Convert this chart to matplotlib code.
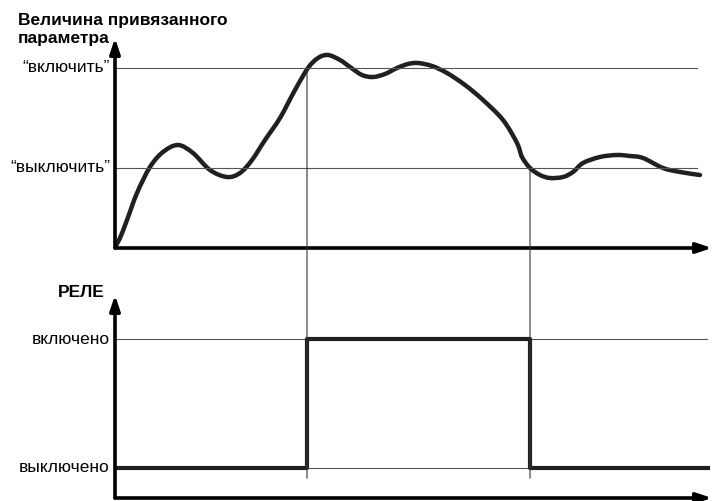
import numpy as np
import matplotlib
matplotlib.use("Agg")
import matplotlib.pyplot as plt
from matplotlib.patches import ConnectionPatch, PathPatch
from matplotlib.path import Path

plt.rcParams['font.family'] = ['Liberation Sans', 'DejaVu Sans']

# parameter curve (time, value)
t = [0.00, 0.05, 0.12, 0.22, 0.35, 0.48, 0.63, 0.78, 0.95, 1.12, 1.25, 1.37,
     1.50, 1.65, 1.80, 1.93, 2.03, 2.13, 2.25, 2.35, 2.47, 2.58, 2.70, 2.82,
     2.93, 3.03, 3.17, 3.32, 3.50, 3.68, 3.88, 4.02, 4.07, 4.15, 4.25, 4.35,
     4.48, 4.58, 4.68, 4.85, 5.02, 5.15, 5.28, 5.48, 5.65, 5.85]
v = [0.01, 0.10, 0.28, 0.55, 0.81, 0.96, 1.03, 0.95, 0.78, 0.71, 0.75, 0.88,
     1.08, 1.30, 1.58, 1.80, 1.90, 1.93, 1.88, 1.81, 1.73, 1.71, 1.74, 1.80,
     1.84, 1.85, 1.82, 1.75, 1.63, 1.48, 1.28, 1.05, 0.91, 0.80, 0.73, 0.70,
     0.71, 0.76, 0.85, 0.91, 0.93, 0.92, 0.90, 0.80, 0.76, 0.73]

on_level = 1.8
off_level = 0.8
t_on = 1.92
t_off = 4.15

relay_t = [0, t_on, t_off, 5.93]
relay_s = [0, 1, 0, 0]


def smooth_path(x, y):
    # Catmull-Rom through the points, written as cubic bezier segments
    p = np.column_stack([x, y])
    verts = [p[0]]
    codes = [Path.MOVETO]
    for i in range(len(p) - 1):
        p0 = p[i - 1] if i > 0 else p[i]
        p1, p2 = p[i], p[i + 1]
        p3 = p[i + 2] if i + 2 < len(p) else p[i + 1]
        verts += [p1 + (p2 - p0) / 6, p2 - (p3 - p1) / 6, p2]
        codes += [Path.CURVE4] * 3
    return Path(verts, codes)


W, H = 712, 501
fig = plt.figure(figsize=(W / 100, H / 100), dpi=100)

# top panel: x-axis at y=248px, arrow tip at 38px
ax1 = fig.add_axes([115 / W, (H - 248) / H, (W - 115) / W, 210 / H])
ax1.set_xlim(0, 5.97)
ax1.set_ylim(0, 2.1)
# bottom panel: x-axis at y=498px, arrow tip at 295px
ax2 = fig.add_axes([115 / W, (H - 498) / H, (W - 115) / W, 203 / H])
ax2.set_xlim(0, 5.97)
ax2.set_ylim(-30 / 129, 173 / 129)

fs = 12.5
thin = dict(color='#555555', lw=0.8)
for ax in (ax1, ax2):
    ax.axis('off')
    ax.annotate('', xy=(1.0, 0), xytext=(0, 0), xycoords='axes fraction',
                arrowprops=dict(arrowstyle='-|>,head_length=0.9,head_width=0.3',
                                lw=2.6, color='black', shrinkA=0, shrinkB=0))
    ax.annotate('', xy=(0, 1.0), xytext=(0, 0), xycoords='axes fraction',
                arrowprops=dict(arrowstyle='-|>,head_length=0.9,head_width=0.3',
                                lw=2.6, color='black', shrinkA=0, shrinkB=0))

# top panel
ax1.plot([0, 5.82], [on_level, on_level], **thin)
ax1.plot([0, 5.82], [off_level, off_level], **thin)
ax1.plot([-0.05, 0], [on_level, on_level], color='black', lw=0.8)
ax1.plot([-0.05, 0], [off_level, off_level], color='black', lw=0.8)
ax1.add_patch(PathPatch(smooth_path(t, v), fill=False, edgecolor='#231f20',
                        lw=3.2, capstyle='round', joinstyle='round'))
ax1.text(-0.05, on_level, '“включить”', ha='right', va='center', fontsize=fs)
ax1.text(-0.05, off_level, '“выключить”', ha='right', va='center', fontsize=fs)
fig.text(18 / W, 1 - 29 / H, 'Величина привязанного\nпараметра', ha='left', va='center',
         fontsize=fs, fontweight='bold', linespacing=1.25)

# bottom panel
ax2.plot([0, 5.92], [1, 1], **thin)
ax2.plot([0, 5.92], [0, 0], **thin)
ax2.plot([-0.05, 0], [1, 1], color='black', lw=0.8)
ax2.plot([-0.05, 0], [0, 0], color='black', lw=0.8)
ax2.plot(relay_t, relay_s, drawstyle='steps-post', color='#231f20', lw=3.0)
ax2.text(-0.05, 1, 'включено', ha='right', va='center', fontsize=fs)
ax2.text(-0.05, 0, 'выключено', ha='right', va='center', fontsize=fs)
ax2.text(-0.1, 1.36, 'РЕЛЕ', ha='right', va='center', fontsize=fs, fontweight='bold')

# switching moments connecting both panels
for ts, lvl in ((t_on, on_level), (t_off, off_level)):
    con = ConnectionPatch(xyA=(ts, lvl), coordsA=ax1.transData,
                          xyB=(ts, -0.08), coordsB=ax2.transData,
                          color='#333333', lw=0.8)
    fig.add_artist(con)

fig.savefig('out.png', dpi=100)
